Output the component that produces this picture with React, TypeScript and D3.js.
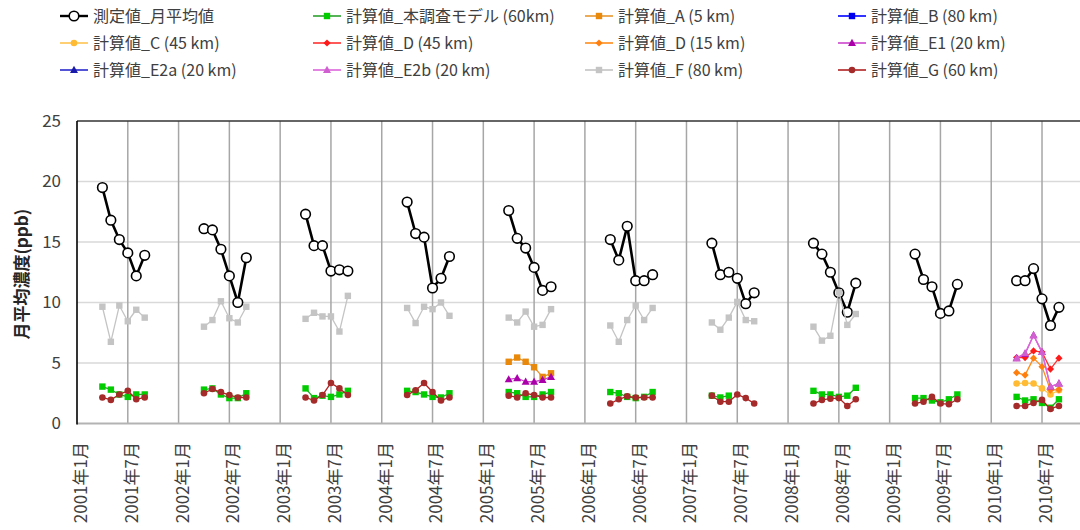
import React from "react";
import * as d3 from "d3";

// ---------------- data ----------------
const years = [2001, 2002, 2003, 2004, 2005, 2006, 2007, 2008, 2009, 2010];
const months = [4, 5, 6, 7, 8, 9];
const yTicks = [0, 5, 10, 15, 20, 25];

type Row = (number | null)[];

const measured: Row[] = [
  [19.5, 16.8, 15.2, 14.1, 12.2, 13.9],
  [16.1, 16.0, 14.4, 12.2, 10.0, 13.7],
  [17.3, 14.7, 14.7, 12.6, 12.7, 12.6],
  [18.3, 15.7, 15.4, 11.2, 12.0, 13.8],
  [17.6, 15.3, 14.5, 12.9, 11.0, 11.3],
  [15.2, 13.5, 16.3, 11.8, 11.8, 12.3],
  [14.9, 12.3, 12.5, 12.0, 9.9, 10.8],
  [14.9, 14.0, 12.5, 10.8, 9.2, 11.6],
  [14.0, 11.9, 11.3, 9.1, 9.3, 11.5],
  [11.8, 11.8, 12.8, 10.3, 8.1, 9.6],
];

const calcModel: Row[] = [
  [3.05, 2.8, 2.4, 2.2, 2.4, 2.4],
  [2.8, 2.9, 2.4, 2.1, 2.1, 2.5],
  [2.9, 2.1, 2.3, 2.2, 2.4, 2.7],
  [2.7, 2.6, 2.4, 2.2, 2.15, 2.5],
  [2.6, 2.5, 2.2, 2.2, 2.4, 2.6],
  [2.6, 2.5, 2.2, 2.1, 2.2, 2.6],
  [2.3, 2.15, 2.3, null, null, null],
  [2.7, 2.4, 2.4, 2.2, 2.3, 2.95],
  [2.1, 2.1, 1.9, 1.75, 2.0, 2.4],
  [2.2, 1.9, 2.0, 1.7, 1.3, 2.0],
];

const calcF: Row[] = [
  [9.65, 6.75, 9.75, 8.45, 9.4, 8.75],
  [8.0, 8.55, 10.1, 8.7, 8.35, 9.65],
  [8.65, 9.15, 8.85, 8.85, 7.6, 10.55],
  [9.55, 8.3, 9.65, 9.45, 10.0, 8.9],
  [8.75, 8.35, 9.25, 8.0, 8.15, 9.45],
  [8.1, 6.75, 8.55, 9.75, 8.55, 9.55],
  [8.35, 7.75, 8.75, 10.05, 8.55, 8.45],
  [8.0, 6.85, 7.25, 10.85, 8.15, 9.05],
  [null, null, null, null, null, null],
  [null, null, null, null, null, null],
];

const calcG: Row[] = [
  [2.15, 1.95, 2.4, 2.7, 2.0, 2.15],
  [2.5, 2.85, 2.6, 2.35, 2.15, 2.15],
  [2.15, 1.9, 2.35, 3.35, 2.9, 2.35],
  [2.35, 2.75, 3.35, 2.6, 1.9, 2.15],
  [2.3, 2.15, 2.5, 2.35, 2.15, 2.15],
  [1.65, 2.0, 2.25, 2.15, 2.15, 2.15],
  [2.3, 1.8, 1.8, 2.4, 2.1, 1.65],
  [1.65, 1.95, 2.05, 2.1, 1.45, 2.0],
  [1.65, 1.8, 2.2, 1.65, 1.6, 2.0],
  [1.45, 1.45, 1.7, 1.95, 1.2, 1.45],
];

const calcA2005 = [5.1, 5.45, 5.1, 4.65, 3.85, 4.15];
const calcB: Row = [];
const calcC2010 = [3.3, 3.35, 3.3, 2.9, 2.4, 2.75];
const calcD45_2010 = [5.45, 5.45, 6.0, 5.9, 4.5, 5.4];
const calcD15_2010 = [4.2, 4.0, 5.4, 4.7, 2.75, 2.8];
const calcE1_2005 = [3.65, 3.75, 3.45, 3.45, 3.6, 3.85];
const calcE1_2010 = [5.4, 5.75, 7.3, 5.9, 3.05, 3.3];
const calcE2a: Row = [];
const calcE2b_2010 = [5.4, 5.8, 7.3, 5.9, 3.05, 3.3];

// ---------------- helpers ----------------
type Pt = { i: number; v: number | null };

function fromRows(rows: Row[]): Pt[][] {
  return rows.map((r, yi) =>
    months.map((m, mi) => ({ i: (years[yi] - 2001) * 12 + (m - 1), v: r[mi] ?? null }))
  );
}
function fromYear(year: number, vals: Row): Pt[][] {
  return [months.map((m, mi) => ({ i: (year - 2001) * 12 + (m - 1), v: vals[mi] ?? null }))];
}

type Shape = "openCircle" | "square" | "circle" | "diamond" | "triangle";
type Series = {
  name: string;
  segs: Pt[][];
  line: string;
  fill: string;
  shape: Shape;
  lw: number;
};

const series: Series[] = [
  { name: "測定値_月平均値", segs: fromRows(measured), line: "#000000", fill: "#ffffff", shape: "openCircle", lw: 2.6 },
  { name: "計算値_本調査モデル (60km)", segs: fromRows(calcModel), line: "#2ca02c", fill: "#00cc00", shape: "square", lw: 1.3 },
  { name: "計算値_A (5 km)", segs: fromYear(2005, calcA2005), line: "#e8962e", fill: "#e8890c", shape: "square", lw: 1.3 },
  { name: "計算値_B (80 km)", segs: [calcB.map((v, k) => ({ i: k, v }))], line: "#0000ff", fill: "#0000ee", shape: "square", lw: 1.3 },
  { name: "計算値_C (45 km)", segs: fromYear(2010, calcC2010), line: "#ffc550", fill: "#ffbb33", shape: "circle", lw: 1.3 },
  { name: "計算値_D (45 km)", segs: fromYear(2010, calcD45_2010), line: "#ff3030", fill: "#ff1a1a", shape: "diamond", lw: 1.3 },
  { name: "計算値_D (15 km)", segs: fromYear(2010, calcD15_2010), line: "#ff8c1a", fill: "#ff7f0e", shape: "diamond", lw: 1.3 },
  { name: "計算値_E1 (20 km)", segs: [...fromYear(2005, calcE1_2005), ...fromYear(2010, calcE1_2010)], line: "#cc44cc", fill: "#aa00aa", shape: "triangle", lw: 1.3 },
  { name: "計算値_E2a (20 km)", segs: [calcE2a.map((v, k) => ({ i: k, v }))], line: "#2a2acc", fill: "#1a1aaa", shape: "triangle", lw: 1.3 },
  { name: "計算値_E2b (20 km)", segs: fromYear(2010, calcE2b_2010), line: "#dd66dd", fill: "#d060d0", shape: "triangle", lw: 1.3 },
  { name: "計算値_F (80 km)", segs: fromRows(calcF), line: "#c4c4c4", fill: "#c4c4c4", shape: "square", lw: 1.3 },
  { name: "計算値_G (60 km)", segs: fromRows(calcG), line: "#b22222", fill: "#a52a2a", shape: "circle", lw: 1.3 },
];

// ---------------- layout ----------------
const W = 1080;
const H = 530;
const step = 8.465;
const x = d3.scaleLinear().domain([0, 120]).range([77, 77 + 120 * step]);
const y = d3.scaleLinear().domain([0, 25]).range([423.5, 121]);
const FONT = "'Noto Sans CJK JP', 'Noto Sans', sans-serif";

function Marker({ shape, cx, cy, fill, stroke }: { shape: Shape; cx: number; cy: number; fill: string; stroke: string }) {
  switch (shape) {
    case "openCircle":
      return <circle cx={cx} cy={cy} r={4.8} fill="#fff" stroke="#000" strokeWidth={1.6} />;
    case "square":
      return <rect x={cx - 3.2} y={cy - 3.2} width={6.4} height={6.4} fill={fill} />;
    case "circle":
      return <circle cx={cx} cy={cy} r={3.3} fill={fill} />;
    case "diamond":
      return <path d={`M${cx},${cy - 3.6}L${cx + 3.6},${cy}L${cx},${cy + 3.6}L${cx - 3.6},${cy}Z`} fill={fill} />;
    case "triangle":
      return <path d={`M${cx},${cy - 4.2}L${cx + 4},${cy + 3}L${cx - 4},${cy + 3}Z`} fill={fill} />;
  }
  return null;
}

const legendCols = [60, 313, 585, 838];
const legendRows = [16, 43, 70];

export default function App() {
  const line = d3
    .line<Pt>()
    .defined((d) => d.v != null)
    .x((d) => x(d.i))
    .y((d) => y(d.v as number));

  const vGrid = d3.range(6, 121, 6);
  const xLabelIdx = d3.range(0, 120, 6);

  return (
    <svg width={W} height={H} style={{ position: "absolute", left: 0, top: 0, background: "#fff" }} fontFamily={FONT}>
      {/* horizontal gridlines */}
      {yTicks.filter((t) => t > 0 && t < 25).map((t) => (
        <line key={"h" + t} x1={77} x2={W} y1={y(t)} y2={y(t)} stroke="#d9d9d9" strokeWidth={1.5} />
      ))}
      {/* vertical gridlines */}
      {vGrid.map((i) => (
        <line key={"v" + i} x1={x(i)} x2={x(i)} y1={y(25)} y2={y(0)} stroke="#a6a6a6" strokeWidth={1.5} />
      ))}
      {/* top border */}
      <line x1={77} x2={W} y1={y(25)} y2={y(25)} stroke="#333" strokeWidth={1.5} />
      {/* x axis */}
      <line x1={77} x2={W} y1={y(0)} y2={y(0)} stroke="#b3b3b3" strokeWidth={2} />
      {/* y axis */}
      <line x1={77} x2={77} y1={y(25)} y2={y(0) + 1} stroke="#000" strokeWidth={1.6} />

      {/* y tick labels */}
      {yTicks.map((t) => (
        <text key={"yt" + t} x={61} y={y(t)} dy="0.35em" textAnchor="end" fontSize={17} fill="#404040">
          {t}
        </text>
      ))}
      {/* y title */}
      <text
        transform={`translate(22,${(y(0) + y(25)) / 2 + 2}) rotate(-90)`}
        textAnchor="middle"
        dy="0.35em"
        fontSize={17}
        fontWeight="bold"
        fill="#262626"
      >
        月平均濃度(ppb)
      </text>

      {/* x labels */}
      {xLabelIdx.map((i) => {
        const yr = 2001 + Math.floor(i / 12);
        const mo = (i % 12) + 1;
        return (
          <text
            key={"xl" + i}
            transform={`translate(${x(i) + 4},442) rotate(-90)`}
            textAnchor="end"
            dy="0.35em"
            fontSize={17}
            fill="#404040"
          >
            {`${yr}年${mo}月`}
          </text>
        );
      })}

      {/* series */}
      {series.map((s, si) => (
        <g key={"s" + si}>
          {s.segs.map((seg, k) => (
            <path key={k} d={line(seg) || ""} fill="none" stroke={s.line} strokeWidth={s.lw} strokeLinejoin="round" />
          ))}
          {s.segs.flat().filter((d) => d.v != null).map((d, k) => (
            <Marker key={"m" + k} shape={s.shape} cx={x(d.i)} cy={y(d.v as number)} fill={s.fill} stroke={s.line} />
          ))}
        </g>
      ))}

      {/* legend */}
      {series.map((s, si) => {
        const lx = legendCols[si % 4];
        const ly = legendRows[Math.floor(si / 4)];
        return (
          <g key={"lg" + si}>
            <line x1={lx} x2={lx + 28} y1={ly} y2={ly} stroke={s.line} strokeWidth={s.shape === "openCircle" ? 2.4 : 1.6} />
            <Marker shape={s.shape} cx={lx + 14} cy={ly} fill={s.fill} stroke={s.line} />
            <text x={lx + 33} y={ly} dy="0.35em" fontSize={16} fill="#404040">
              {s.name}
            </text>
          </g>
        );
      })}
    </svg>
  );
}
